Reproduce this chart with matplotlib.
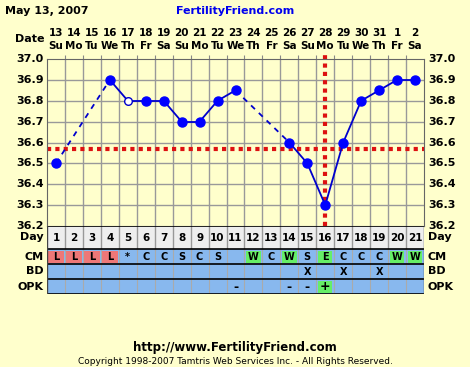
import numpy as np
import matplotlib.pyplot as plt
from matplotlib.patches import Rectangle

W, H = 470, 367
bg = '#ffffcc'

days = np.arange(1, 22)
dates = ['13', '14', '15', '16', '17', '18', '19', '20', '21', '22', '23',
         '24', '25', '26', '27', '28', '29', '30', '31', '1', '2']
wdays = ['Su', 'Mo', 'Tu', 'We', 'Th', 'Fr', 'Sa'] * 3
temps = [36.5, np.nan, np.nan, 36.9, 36.8, 36.8, 36.8, 36.7, 36.7, 36.8, 36.85,
         np.nan, np.nan, 36.6, 36.5, 36.3, 36.6, 36.8, 36.85, 36.9, 36.9]
open_days = [5]
coverline = 36.57
ovulation_day = 16
cm = ['L', 'L', 'L', 'L', '*', 'C', 'C', 'S', 'C', 'S', '', 'W', 'C', 'W',
      'S', 'E', 'C', 'C', 'C', 'W', 'W']
bd = ['', '', '', '', '', '', '', '', '', '', '', '', '', '', 'X', '', 'X',
      '', 'X', '', '']
opk = ['', '', '', '', '', '', '', '', '', '', '-', '', '', '-', '-', '+', '',
       '', '', '', '']
yticks = [37.0, 36.9, 36.8, 36.7, 36.6, 36.5, 36.4, 36.3, 36.2]


def px(x0, y0, x1, y1):
    return [x0 / W, 1 - y1 / H, (x1 - x0) / W, (y1 - y0) / H]


fig = plt.figure(figsize=(W / 100, H / 100), dpi=100, facecolor=bg)
font = dict(family='DejaVu Sans', fontweight='bold')
fs = 7.5

# temperature plot
ax = fig.add_axes(px(47, 59, 424, 226))
ax.set_facecolor(bg)
ax.set_xlim(0.5, 21.5)
ax.set_ylim(36.2, 37.0)
for d in np.arange(1.5, 21.5, 1):
    ax.axvline(d, color='#999999', lw=1, zorder=1)
for t in yticks[1:-1]:
    ax.axhline(t, color='#999999', lw=1, zorder=1)
ax.set_xticks(np.arange(1.5, 21.5, 1))
ax.set_yticks([])
ax.tick_params(axis='x', bottom=False, top=True, labelbottom=False,
               direction='out', length=3, color='#888888')
for s in ax.spines.values():
    s.set_color('#666666')

t = np.array(temps)
valid = ~np.isnan(t)
vx, vy = days[valid], t[valid]
for i in range(len(vx) - 1):
    ls = '-' if vx[i + 1] - vx[i] == 1 else (0, (3, 3))
    ax.plot(vx[i:i + 2], vy[i:i + 2], color='#0000cc', lw=1.3, ls=ls, zorder=3)
for d, v in zip(vx, vy):
    if d in open_days:
        ax.plot(d, v, 'o', ms=5.5, mfc='white', mec='#0000cc', mew=1, zorder=4)
    else:
        ax.plot(d, v, 'o', ms=6.5, color='#0000ff', zorder=4)

ax.axhline(coverline, color='#dd1111', lw=3, ls=(0, (1, 1)), zorder=2)
ax.plot([ovulation_day, ovulation_day], [36.2, 37.02], color='#dd1111', lw=3,
        ls=(0, (1, 1)), zorder=2, clip_on=False)

for i, v in enumerate(yticks):
    y = 59 + i * (226 - 59) / 8
    fig.text(44 / W, 1 - y / H, f'{v:.1f}', ha='right', va='center', fontsize=8, **font)
    fig.text(428 / W, 1 - y / H, f'{v:.1f}', ha='left', va='center', fontsize=8, **font)

# header
fig.text(5 / W, 1 - 11 / H, 'May 13, 2007', ha='left', va='center', fontsize=8, **font)
fig.text(235 / W, 1 - 11 / H, 'FertilityFriend.com', ha='center', va='center',
         fontsize=8, color='#0000ee', **font)
fig.text(15 / W, 1 - 39 / H, 'Date', ha='left', va='center', fontsize=8, **font)
for d, ds, wd in zip(days, dates, wdays):
    x = 47 + (d - 0.5) * (424 - 47) / 21
    fig.text(x / W, 1 - 33 / H, ds, ha='center', va='center', fontsize=fs, **font)
    fig.text(x / W, 1 - 46 / H, wd, ha='center', va='center', fontsize=fs, **font)

# table below the plot
tb = fig.add_axes(px(47, 226, 424, 294))
tb.set_xlim(0.5, 21.5)
tb.set_ylim(294, 226)
tb.axis('off')
rows = [(226, 249), (249, 264), (264, 279), (279, 294)]
tb.add_patch(Rectangle((0.5, 226), 21, 23, fc='#eeeeee', ec='none'))
tb.add_patch(Rectangle((0.5, 249), 21, 45, fc='#88b8ee', ec='none'))
for d in range(1, 22):
    c = cm[d - 1]
    if c == 'L':
        tb.add_patch(Rectangle((d - 0.45, 250.5), 0.9, 12, fc='#ee7777', ec='none'))
    elif c in ('W', 'E'):
        tb.add_patch(Rectangle((d - 0.4, 250.5), 0.8, 12, fc='#66ee66', ec='none'))
    if opk[d - 1] == '+':
        tb.add_patch(Rectangle((d - 0.4, 280.5), 0.8, 12, fc='#66ee66', ec='none'))
for d in np.arange(1.5, 21.5, 1):
    tb.plot([d, d], [226, 249], color='#999999', lw=1)
    tb.plot([d, d], [249, 294], color='#aaaaaa', lw=0.8)
for y in [226, 249, 264, 279, 294]:
    tb.plot([0.5, 21.5], [y, y], color='black', lw=1.2)
tb.plot([0.5, 0.5], [226, 294], color='#444444', lw=1)
tb.plot([21.5, 21.5], [226, 294], color='#444444', lw=1)

for d in range(1, 22):
    tb.text(d, 238, str(d), ha='center', va='center', fontsize=fs, **font)
    tb.text(d, 257, cm[d - 1], ha='center', va='center', fontsize=7, **font)
    tb.text(d, 272, bd[d - 1], ha='center', va='center', fontsize=7, **font)
    tb.text(d, 287, opk[d - 1], ha='center', va='center', fontsize=9, **font)

for lab, (y0, y1) in zip(['Day', 'CM', 'BD', 'OPK'], rows):
    y = (y0 + y1) / 2
    fig.text(44 / W, 1 - y / H, lab, ha='right', va='center', fontsize=8, **font)
    fig.text(428 / W, 1 - y / H, lab, ha='left', va='center', fontsize=8, **font)

# footer
fig.text(235 / W, 1 - 348 / H, 'http://www.FertilityFriend.com', ha='center',
         va='center', fontsize=8.5, **font)
fig.text(235 / W, 1 - 362 / H,
         'Copyright 1998-2007 Tamtris Web Services Inc. - All Rights Reserved.',
         ha='center', va='center', fontsize=6.5, family='DejaVu Sans')

fig.savefig('out.png', dpi=100, facecolor=bg)
